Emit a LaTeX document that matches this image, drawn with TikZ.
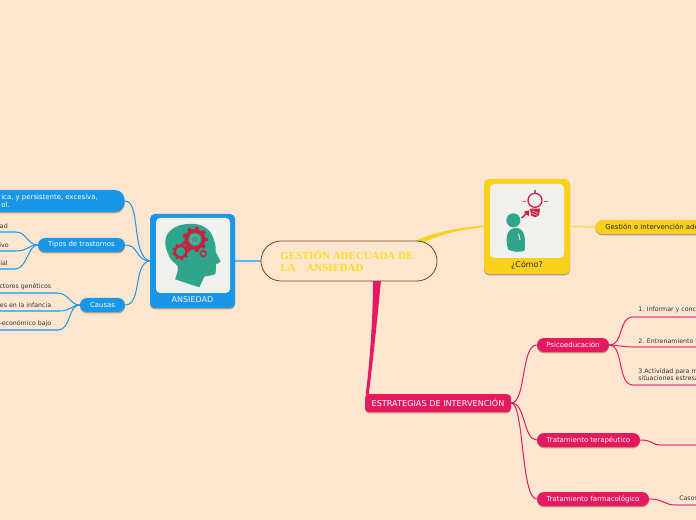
\documentclass[tikz,border=0pt]{standalone}
\usepackage{fontspec}
\setmainfont{DejaVu Sans}
\newfontfamily\titlefont{Liberation Serif}
\usetikzlibrary{shadows,backgrounds,calc}
\definecolor{bgc}{HTML}{FDE6CF}
\definecolor{bluec}{HTML}{1A96E8}
\definecolor{yelc}{HTML}{FAD01F}
\definecolor{titlec}{HTML}{FFDD1A}
\definecolor{pinkc}{HTML}{E5195F}
\definecolor{lpink}{HTML}{F2789F}
\definecolor{lyel}{HTML}{FBDB62}
\definecolor{lblue}{HTML}{5DB5EE}
\definecolor{inner}{HTML}{F0F0EC}
\definecolor{teal}{HTML}{2FA58C}
\definecolor{gearc}{HTML}{C8203F}
\definecolor{brownc}{HTML}{6E4520}
\definecolor{txt}{HTML}{333333}
\newcommand{\mygear}[3]{%
  \draw[gearc,line width=#3*0.075pt] (#1,#2) circle ({#3*0.72});
  \foreach \a in {0,40,...,320}{\draw[gearc,line width=#3*0.075pt] (#1,#2)++(\a:{#3*0.75}) -- ++(\a:{#3*0.3});}%
}
\tikzset{
  x=0.75pt,y=-0.75pt,
  shad/.style={drop shadow={shadow xshift=0pt,shadow yshift=-1pt,fill=brownc,opacity=.45}},
  pill/.style={shad,rounded corners=7pt*0.75,text=white,inner sep=0pt,font=\fontsize{5.2pt}{6pt}\selectfont},
  bluepill/.style={pill,fill=bluec},
  pinkpill/.style={pill,fill=pinkc},
  card/.style={shad,rounded corners=3.5pt,inner sep=0pt},
  innerbox/.style={fill=inner,rounded corners=3pt,inner sep=0pt},
  leaf/.style={text=txt,inner sep=0pt,font=\fontsize{4.7pt}{5.6pt}\selectfont,align=left},
  cblue/.style={bluec,line width=0.75pt},
  cpink/.style={pinkc,line width=0.75pt},
  ublue/.style={lblue,line width=0.9pt},
  upink/.style={lpink,line width=1.1pt},
}
\begin{document}
\begin{tikzpicture}
\useasboundingbox (0,0) rectangle (696,520);
\clip (0,0) rectangle (696,520);
\begin{scope}[on background layer]
\fill[bgc] (0,0) rectangle (696,520);
\end{scope}

% central
\node[draw=brownc,fill=bgc,line width=0.6pt,rounded corners=15pt,minimum width=132pt,minimum height=30pt,inner sep=0pt] (central) at (349,261) {};
\node[anchor=west,inner sep=0pt,align=left,text=titlec,font=\titlefont\bfseries\fontsize{8.2pt}{9pt}\selectfont] (title) at (280,261) {GESTIÓN ADECUADA DE\\LA \ \ \ ANSIEDAD};

% cards
\node[card,fill=bluec,minimum width=63.75pt,minimum height=70.5pt] (ans) at (192.5,261) {};
\node[innerbox,minimum width=55.5pt,minimum height=56.25pt] (ansin) at (193,255.5) {};
\node[text=inner,inner sep=0pt,font=\fontsize{6pt}{7pt}\selectfont] (anslab) at (192.5,300) {ANSIEDAD};

\node[card,fill=yelc,minimum width=64.5pt,minimum height=71.25pt] (como) at (527,226.5) {};
\node[innerbox,minimum width=55.5pt,minimum height=55.5pt] (comoin) at (527,221) {};
\node[text=black!85,inner sep=0pt,font=\fontsize{6pt}{7pt}\selectfont] (comolab) at (527,265) {¿Cómo?};

% head icon
\begin{scope}[shift={(150,210)},x=0.25pt,y=-0.25pt]
\fill[teal] plot[smooth,tension=0.55] coordinates {(75,208)(84,172)(62,147)(47,110)(50,76)(75,52)(110,42)(150,45)(180,65)(195,100)(197,125)} -- (212,155) -- (198,163) -- (197,190) .. controls (190,198) and (175,196) .. (163,200) -- (148,232) -- cycle;
\mygear{135}{88}{36}
\mygear{92}{125}{24}
\mygear{160}{131}{11}
\draw[white!60!gearc,line width=0.3pt] (135,88) circle (13);
\end{scope}

% idea icon
\begin{scope}[shift={(480,178)},x=0.25pt,y=-0.25pt]
\fill[teal] (100,127) circle (21);
\fill[teal] (85,215) .. controls (76,190) and (76,150) .. (108,150) .. controls (138,150) and (136,190) .. (134,218) .. controls (120,224) and (100,222) .. (85,215) -- cycle;
\draw[white!75!teal,line width=0.8pt,line cap=round] (116,168) -- (120,185);
\draw[gearc,line width=0.95pt] (165,67) circle (21);
\fill[gearc] (150,92) -- (180,92) -- (177,112) -- (165,118) -- (153,112) -- cycle;
\draw[white,line width=0.3pt] (155,98) -- (175,106) (155,106) -- (172,112);
\draw[gearc!80!white,line width=0.8pt] (165,35) -- (165,44) (128,71) -- (137,71) (193,71) -- (203,71);
\draw[gearc,line width=1.1pt] (125,120) -- (140,106);
\fill[gearc] (148,97) -- (146,115) -- (131,101) -- cycle;
\end{scope}

% left nodes
\node[bluepill,anchor=east,inner xsep=20.25pt,minimum height=16.5pt,align=left,rounded corners=7.5pt] (top) at (125,201) {ica, y persistente, excesiva,\\ol.};
\node[bluepill,minimum width=65.25pt,minimum height=10.5pt] (tipos) at (81.5,245) {Tipos de trastornos};
\node[bluepill,minimum width=33.75pt,minimum height=10.5pt] (causas) at (102.5,305) {Causas};

\node[leaf,anchor=east] (l1) at (8,226.5) {lad};
\node[leaf,anchor=east] (l2) at (9,245) {ivo};
\node[leaf,anchor=east] (l3) at (8,263.5) {cial};
\node[leaf,anchor=east] (l4) at (51.5,287) {actores genéticos};
\node[leaf,anchor=east] (l5) at (51.5,305) {des en la infancia};
\node[leaf,anchor=east] (l6) at (51.5,324) {o-económico bajo};
\coordinate (u1) at (0,232); \coordinate (u1b) at (16,232);
\coordinate (u2) at (0,251); \coordinate (u2b) at (16,251);
\coordinate (u3) at (0,269); \coordinate (u3b) at (15,269);
\coordinate (u4) at (0,293); \coordinate (u4b) at (57,293);
\coordinate (u5) at (0,311); \coordinate (u5b) at (60,311);
\coordinate (u6) at (0,330); \coordinate (u6b) at (58,330);

% right nodes
\node[pill,fill=yelc,anchor=west,minimum width=120pt,minimum height=10.5pt] (gest) at (595,227) {};
\node[text=black!85,inner sep=0pt,anchor=west,font=\fontsize{5.2pt}{6pt}\selectfont] (gestt) at (605,227) {Gestión e intervención ade};
\node[pinkpill,rounded corners=3pt,font=\fontsize{6.1pt}{7pt}\selectfont,minimum width=109.5pt,minimum height=13.5pt] (estr) at (438,403) {ESTRATEGIAS DE INTERVENCIÓN};
\node[pinkpill,minimum width=54pt,minimum height=10.5pt] (psico) at (573,345) {Psicoeducación};
\node[pinkpill,minimum width=77.25pt,minimum height=10.5pt] (terap) at (588.5,440) {Tratamiento terapéutico};
\node[pinkpill,minimum width=84pt,minimum height=10.5pt] (farma) at (593,499) {Tratamiento farmacológico};

\node[leaf,anchor=west] (r1) at (638,310) {1. Informar y conci};
\node[leaf,anchor=west] (r2) at (638,341) {2. Entrenamiento fi};
\node[leaf,anchor=west] (r3) at (638,374.5) {3.Actividad para m\\situaciones estresa};
\node[leaf,anchor=west] (r4) at (679,498) {Casos};
\coordinate (v1) at (633,317); \coordinate (v1e) at (696,317);
\coordinate (v2) at (633,347); \coordinate (v2e) at (696,347);
\coordinate (v3) at (633,385); \coordinate (v3e) at (696,385);
\coordinate (v4) at (660,445); \coordinate (v4e) at (696,445);
\coordinate (v5) at (675,505); \coordinate (v5e) at (696,505);

\begin{scope}[on background layer]
% trunk connectors
\fill[pinkc] ($(central.south)+(24,-1)$) .. controls ($(central.south)+(24,30)$) and ($(estr.north west)+(6,-40)$) .. ($(estr.north west)+(1,1)$) -- ($(estr.north west)+(4,1)$) .. controls ($(estr.north west)+(9,-40)$) and ($(central.south)+(28,40)$) .. ($(central.south)+(32,-1)$) -- cycle;
\draw[pinkc,line width=0.75pt] ($(central.south)+(28,-1)$) .. controls ($(central.south)+(26,30)$) and ($(estr.north west)+(7,-40)$) .. ($(estr.north west)+(2.5,1)$);
\fill[yelc] (410,243) .. controls (430,234) and (450,228) .. (486,225.5) -- (486,227) .. controls (450,230) and (432,238) .. (416,246) -- cycle;
\draw[lblue,line width=1.1pt] (ans.east) -- (central.west);
\draw[lyel,line width=1.1pt] (como.east) -- (gest.west);
% blue branches
\draw[cblue] (top.east) .. controls (141,201) and (131,256) .. (ans.west);
\draw[cblue] (tipos.east) .. controls (139,245) and (135,260) .. (ans.west);
\draw[cblue] (causas.east) .. controls (142,305) and (133,263) .. (ans.west);
\draw[cblue] (tipos.west) .. controls (28,245) and (26,232) .. (u1b);
\draw[cblue] (tipos.west) .. controls (28,245) and (28,251) .. (u2b);
\draw[cblue] (tipos.west) .. controls (28,245) and (27,269) .. (u3b);
\draw[cblue] (causas.west) .. controls (70,305) and (69,293) .. (u4b);
\draw[cblue] (causas.west) .. controls (72,305) and (70,311) .. (u5b);
\draw[cblue] (causas.west) .. controls (68,305) and (71,330) .. (u6b);
\draw[ublue] (u1) -- (u1b); \draw[ublue] (u2) -- (u2b); \draw[ublue] (u3) -- (u3b);
\draw[ublue] (u4) -- (u4b); \draw[ublue] (u5) -- (u5b); \draw[ublue] (u6) -- (u6b);
% pink branches
\draw[cpink] (estr.east) .. controls (526,403) and (521,345) .. (psico.west);
\draw[cpink] (estr.east) .. controls (526,403) and (523,440) .. (terap.west);
\draw[cpink] (estr.east) .. controls (524,403) and (521,499) .. (farma.west);
\draw[cpink] (psico.east) .. controls (624,345) and (618,317) .. (v1);
\draw[cpink] (psico.east) .. controls (618,345) and (622,347) .. (v2);
\draw[cpink] (psico.east) .. controls (624,345) and (617,385) .. (v3);
\draw[cpink] (terap.east) .. controls (652,440) and (653,445) .. (v4);
\draw[cpink] (farma.east) .. controls (663,499) and (665,505) .. (v5);
\draw[upink] (v1) -- (v1e); \draw[upink] (v2) -- (v2e); \draw[upink] (v3) -- (v3e);
\draw[upink] (v4) -- (v4e); \draw[upink] (v5) -- (v5e);
\end{scope}
\end{tikzpicture}
\end{document}
